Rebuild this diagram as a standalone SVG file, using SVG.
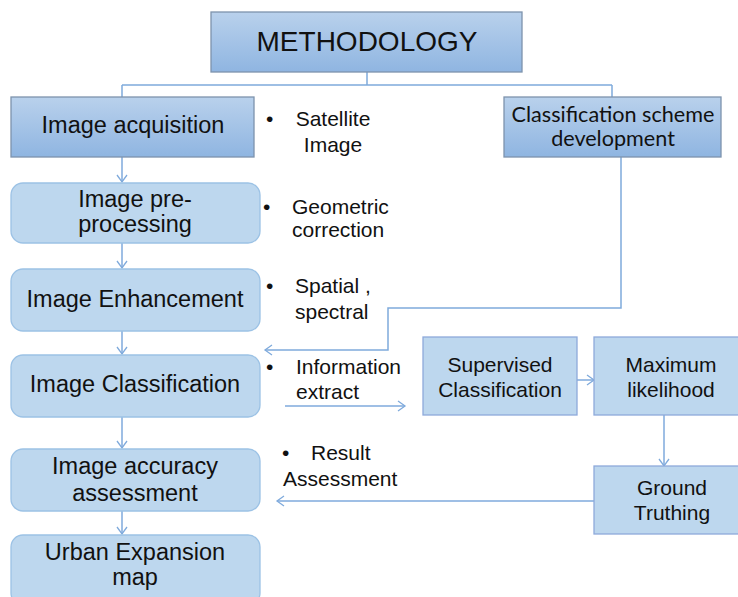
<svg xmlns="http://www.w3.org/2000/svg" width="738" height="597" viewBox="0 0 738 597">
<defs>
<linearGradient id="g" x1="0" y1="0" x2="0" y2="1">
<stop offset="0" stop-color="#b9d1ec"/>
<stop offset="1" stop-color="#8fb5e1"/>
</linearGradient>
<marker id="ah" markerWidth="12" markerHeight="12" refX="10" refY="6" orient="auto" markerUnits="userSpaceOnUse">
<path d="M3,1 L10,6 L3,11" fill="none" stroke="#7faadc" stroke-width="1.3"/>
</marker>
</defs>
<style>
.t{font-family:"Liberation Sans",Arial,sans-serif;fill:#111;}
.c{font-family:Lato,"Liberation Sans",sans-serif;fill:#111;}
.n{font-family:"Liberation Sans",Arial,sans-serif;fill:#111;font-size:21px;}
.gb{fill:url(#g);stroke:#7d93ad;stroke-width:1.3;}
.rb{fill:#bdd7ee;stroke:#9cc2e5;stroke-width:1.3;}
.sb{fill:#bdd7ee;stroke:#8eaadb;stroke-width:1.3;}
.ln{fill:none;stroke:#7faadc;stroke-width:1.5;}
</style>
<rect width="738" height="597" fill="#fff"/>
<g id="connectors">
<path class="ln" d="M367,72 V85 M122,85 H612 M122,85 V97 M612,85 V97"/>
<path class="ln" d="M122,157 V182" marker-end="url(#ah)"/>
<path class="ln" d="M122,243 V268" marker-end="url(#ah)"/>
<path class="ln" d="M122,331 V354" marker-end="url(#ah)"/>
<path class="ln" d="M122,417 V448" marker-end="url(#ah)"/>
<path class="ln" d="M122,511 V534" marker-end="url(#ah)"/>
<path class="ln" d="M621,157 V308 H388 V350 H265" marker-end="url(#ah)"/>
<path class="ln" d="M285,406 H405" marker-end="url(#ah)"/>
<path class="ln" d="M577,380 H594" marker-end="url(#ah)"/>
<path class="ln" d="M664,415 V466" marker-end="url(#ah)"/>
<path class="ln" d="M594,501 H277" marker-end="url(#ah)"/>
</g>
<g id="methodology">
<rect class="gb" x="211" y="12" width="311" height="60"/>
<text class="t" x="367" y="51" font-size="28" text-anchor="middle">METHODOLOGY</text>
</g>
<g id="acquisition">
<rect class="gb" x="11" y="97" width="243" height="60"/>
<text class="t" x="133" y="133" font-size="23.5" text-anchor="middle">Image acquisition</text>
</g>
<g id="scheme">
<rect class="gb" x="504" y="97" width="217" height="60"/>
<text class="c" x="613" y="122" font-size="21.6" text-anchor="middle">Classification scheme</text>
<text class="c" x="613" y="146" font-size="21.6" text-anchor="middle">development</text>
</g>
<g id="preprocessing">
<rect class="rb" x="11" y="183" width="249" height="60" rx="12"/>
<text class="t" x="135" y="207" font-size="23.5" text-anchor="middle">Image pre-</text>
<text class="t" x="135" y="232" font-size="23.5" text-anchor="middle">processing</text>
</g>
<g id="enhancement">
<rect class="rb" x="11" y="269" width="249" height="62" rx="12"/>
<text class="t" x="135" y="307" font-size="23.5" text-anchor="middle">Image Enhancement</text>
</g>
<g id="classification">
<rect class="rb" x="11" y="355" width="249" height="62" rx="12"/>
<text class="t" x="135" y="392" font-size="23.5" text-anchor="middle">Image Classification</text>
</g>
<g id="accuracy">
<rect class="rb" x="11" y="449" width="249" height="62" rx="12"/>
<text class="t" x="135" y="474" font-size="23.5" text-anchor="middle">Image accuracy</text>
<text class="t" x="135" y="501" font-size="23.5" text-anchor="middle">assessment</text>
</g>
<g id="urban">
<rect class="rb" x="11" y="535" width="249" height="70" rx="12"/>
<text class="t" x="135" y="560" font-size="23.5" text-anchor="middle">Urban Expansion</text>
<text class="t" x="135" y="585" font-size="23.5" text-anchor="middle">map</text>
</g>
<g id="supervised">
<rect class="sb" x="423" y="337" width="154" height="78"/>
<text class="t" x="500" y="372" font-size="21" text-anchor="middle">Supervised</text>
<text class="t" x="500" y="397" font-size="21" text-anchor="middle">Classification</text>
</g>
<g id="maximum">
<rect class="sb" x="594" y="337" width="150" height="78"/>
<text class="t" x="671" y="372" font-size="21" text-anchor="middle">Maximum</text>
<text class="t" x="671" y="397" font-size="21" text-anchor="middle">likelihood</text>
</g>
<g id="ground">
<rect class="sb" x="594" y="466" width="150" height="68"/>
<text class="t" x="672" y="495" font-size="21" text-anchor="middle">Ground</text>
<text class="t" x="672" y="520" font-size="21" text-anchor="middle">Truthing</text>
</g>
<g id="notes">
<text class="n" x="266" y="126">•</text>
<text class="n" x="333" y="126" text-anchor="middle">Satellite</text>
<text class="n" x="333" y="152" text-anchor="middle">Image</text>
<text class="n" x="263" y="214">•</text>
<text class="n" x="292" y="214">Geometric</text>
<text class="n" x="292" y="237">correction</text>
<text class="n" x="266" y="293">•</text>
<text class="n" x="295" y="293">Spatial ,</text>
<text class="n" x="295" y="319">spectral</text>
<text class="n" x="266" y="374">•</text>
<text class="n" x="296" y="374">Information</text>
<text class="n" x="296" y="399">extract</text>
<text class="n" x="282" y="460">•</text>
<text class="n" x="311" y="460">Result</text>
<text class="n" x="283" y="486">Assessment</text>
</g>
</svg>
